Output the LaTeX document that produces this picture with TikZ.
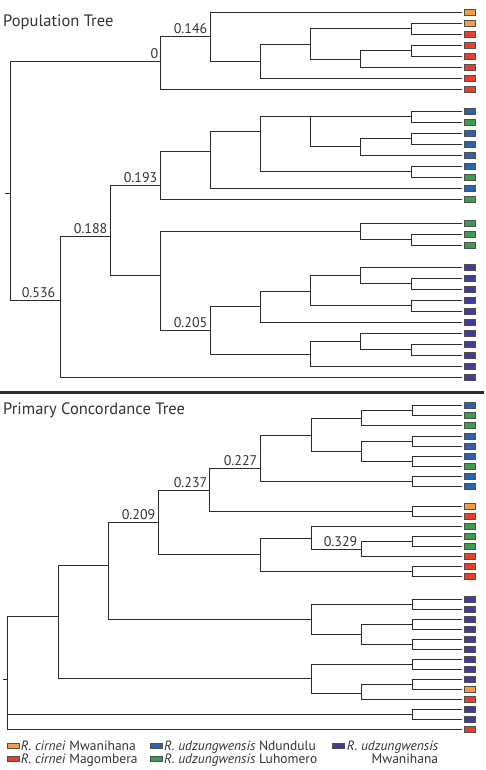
\documentclass[tikz,border=0pt]{standalone}
\usepackage{fontspec}
\setmainfont{PT Sans}
\newcommand\mytightlines{\lineskiplimit=-100pt\relax\lineskip=0pt\relax}
\definecolor{linec}{HTML}{2B2B2B}
\definecolor{boxc}{HTML}{505050}
\definecolor{txtc}{HTML}{333333}
\definecolor{co}{HTML}{F39C42}
\definecolor{cr}{HTML}{E5402C}
\definecolor{cb}{HTML}{2F62AE}
\definecolor{cg}{HTML}{3E9B4F}
\definecolor{cp}{HTML}{403D96}
\begin{document}
\begin{tikzpicture}[x=1pt,y=-1pt,
  br/.style={draw=linec,line width=1.9pt},
  leafbox/.style={draw=boxc,line width=0.6pt,minimum width=11pt,minimum height=6pt,inner sep=0pt,anchor=west},
  legbox/.style={draw=boxc,line width=0.5pt,minimum width=12pt,minimum height=5pt,inner sep=0pt},
  lab/.style={font=\fontsize{14}{16}\selectfont,text=txtc,anchor=base east,inner sep=0pt},
  ttl/.style={font=\fontsize{16.5}{18}\selectfont,text=txtc,anchor=base west,inner sep=0pt},
  legtext/.style={font={\fontsize{13.5}{12.5}\selectfont\mytightlines},text=txtc,anchor=base west,inner sep=0pt}]
\useasboundingbox (0,0) rectangle (486,770);

% ---------- titles and separator
\node[ttl] (title1) at (3,26.5) {Population Tree};
\node[ttl] (title2) at (3,414) {Primary Concordance Tree};
\coordinate (sepL) at (0,392.5);
\coordinate (sepR) at (484,392.5);
\draw[draw=linec,line width=2.5pt] (sepL) -- (sepR);

% ---------- top tree leaves
\foreach \n/\y/\c in {t1/12.5/co,t2/23.5/co,t3/34.5/cr,t4/45.5/cr,t5/56.5/cr,t6/67.5/cr,t7/78.5/cr,t8/89.5/cr,
  t9/111.5/cb,t10/122.5/cg,t11/133.5/cb,t12/144.5/cb,t13/155.5/cb,t14/166.5/cb,t15/177.5/cg,t16/188.5/cb,t17/199.5/cg,
  t18/223.5/cg,t19/234.5/cg,t20/245.5/cg,
  t21/267.5/cp,t22/278.5/cp,t23/289.5/cp,t24/300.5/cp,t25/311.5/cp,t26/322.5/cp,t27/333.5/cp,t28/344.5/cp,t29/355.5/cp,t30/366.5/cp,t31/377.5/cp}{
  \coordinate (\n) at (461.5,\y);
  \node[leafbox,fill=\c] (\n box) at (464,\y) {};
}
% top tree internal nodes
\coordinate (tR) at (10.5,193.5);
\coordinate (tRtick) at (5,193.5);
\coordinate (tA) at (160.5,61.5);
\coordinate (tB) at (210.5,36.5);
\coordinate (tC) at (260.5,61.5);
\coordinate (tD) at (310.5,44.5);
\coordinate (tE) at (411.5,28.5);
\coordinate (tF) at (360.5,59.5);
\coordinate (tG) at (411.5,50.5);
\coordinate (tH) at (60.5,300.5);
\coordinate (tI) at (110.5,236.5);
\coordinate (tJ) at (160.5,185.5);
\coordinate (tL) at (210.5,151.5);
\coordinate (tM) at (260.5,131.5);
\coordinate (tN) at (310.5,116.5);
\coordinate (tP) at (411.5,116.5);
\coordinate (tQ) at (360.5,146.5);
\coordinate (tRr) at (411.5,138.5);
\coordinate (tO) at (411.5,171.5);
\coordinate (tK) at (160.5,275.5);
\coordinate (tS) at (360.5,231.5);
\coordinate (tU) at (411.5,239.5);
\coordinate (tT) at (210.5,330.5);
\coordinate (tV) at (260.5,306.5);
\coordinate (tX) at (310.5,291.5);
\coordinate (tY) at (360.5,275.5);
\coordinate (tYb) at (411.5,283.5);
\coordinate (tZ) at (411.5,305.5);
\coordinate (tW) at (310.5,354.5);
\coordinate (tAA) at (360.5,341.5);
\coordinate (tAAb) at (411.5,349.5);

\draw[br] (tR) -- (tRtick);
\foreach \a/\b in {tR/tA,tR/tH,tA/tB,tA/t8,tB/t1,tB/tC,tC/tD,tC/t7,tD/tE,tD/tF,tE/t2,tE/t3,tF/tG,tF/t6,tG/t4,tG/t5,
  tH/tI,tH/t31,tI/tJ,tI/tK,tJ/tL,tJ/t17,tL/tM,tL/t16,tM/tN,tM/tO,tN/tP,tN/tQ,tP/t9,tP/t10,tQ/tRr,tQ/t13,tRr/t11,tRr/t12,tO/t14,tO/t15,
  tK/tS,tK/tT,tS/t18,tS/tU,tU/t19,tU/t20,tT/tV,tT/tW,tV/tX,tV/t26,tX/tY,tX/tZ,tY/t21,tY/tYb,tYb/t22,tYb/t23,tZ/t24,tZ/t25,
  tW/tAA,tW/t30,tAA/t27,tAA/tAAb,tAAb/t28,tAAb/t29}{
  \draw[br] (\a) |- (\b);
}
% top labels
\node[lab] (labA) at ([xshift=-2pt,yshift=3pt]tA) {0};
\node[lab] (labB) at ([xshift=-3pt,yshift=3pt]tB) {0.146};
\node[lab] (labJ) at ([xshift=-3pt,yshift=3pt]tJ) {0.193};
\node[lab] (labI) at ([xshift=-3pt,yshift=3pt]tI) {0.188};
\node[lab] (labH) at ([xshift=-5pt,yshift=3pt]tH) {0.536};
\node[lab] (labT) at ([xshift=-3pt,yshift=3pt]tT) {0.205};

% ---------- bottom tree leaves
\foreach \n/\y/\c in {b1/405.5/cb,b2/415.5/cg,b3/425.5/cg,b4/436.5/cb,b5/446.5/cb,b6/456.5/cb,b7/466.5/cg,b8/476.5/cb,b9/486.5/cb,
  b10/506.5/co,b11/516.5/cr,b12/526.5/cg,b13/536.5/cg,b14/546.5/cg,b15/556.5/cr,b16/566.5/cr,b17/576.5/cr,
  b18/599.5/cp,b19/609.5/cp,b20/619.5/cp,b21/629.5/cp,b22/639.5/cp,b23/649.5/cp,b24/659.5/cp,b25/669.5/cp,b26/679.5/cp,
  b27/689.5/co,b28/699.5/cr,b29/709.5/cp,b30/719.5/cp,b31/729.5/cr}{
  \coordinate (\n) at (461.5,\y);
  \node[leafbox,fill=\c] (\n box) at (464,\y) {};
}
% bottom tree internal nodes
\coordinate (bR) at (7.5,679.5);
\coordinate (bRtick) at (2.5,679.5);
\coordinate (bB1) at (58.5,616.5);
\coordinate (bB2) at (108.5,565.5);
\coordinate (bB3) at (311.5,678.5);
\coordinate (bB4) at (158.5,522.5);
\coordinate (bB5) at (311.5,619.5);
\coordinate (bB6) at (209.5,490.5);
\coordinate (bB7) at (260.5,554.5);
\coordinate (bBO) at (412.5,511.5);
\coordinate (bB8) at (260.5,468.5);
\coordinate (bB8b) at (412.5,481.5);
\coordinate (bB9) at (311.5,435.5);
\coordinate (bB10) at (361.5,418.5);
\coordinate (bB10a) at (412.5,410.5);
\coordinate (bB11) at (361.5,451.5);
\coordinate (bB11a) at (412.5,441.5);
\coordinate (bB11b) at (412.5,461.5);
\coordinate (bB7b) at (412.5,571.5);
\coordinate (bB12) at (311.5,538.5);
\coordinate (bB13) at (361.5,549.5);
\coordinate (bB13a) at (412.5,541.5);
\coordinate (bB5a) at (412.5,604.5);
\coordinate (bB14) at (361.5,634.5);
\coordinate (bB14a) at (412.5,624.5);
\coordinate (bB14b) at (412.5,644.5);
\coordinate (bB3a) at (412.5,664.5);
\coordinate (bB15) at (361.5,693.5);
\coordinate (bB15a) at (412.5,684.5);
\coordinate (bBX) at (412.5,714.5);

\draw[br] (bR) -- (bRtick);
\foreach \a/\b in {bR/bB1,bR/bBX,bR/b31,bB1/bB2,bB1/bB3,bB2/bB4,bB2/bB5,bB4/bB6,bB4/bB7,bB6/bB8,bB6/bBO,bBO/b10,bBO/b11,
  bB8/bB9,bB8/bB8b,bB8b/b8,bB8b/b9,bB9/bB10,bB9/bB11,bB10/bB10a,bB10/b3,bB10a/b1,bB10a/b2,bB11/bB11a,bB11/bB11b,
  bB11a/b4,bB11a/b5,bB11b/b6,bB11b/b7,bB7/bB12,bB7/bB7b,bB7b/b16,bB7b/b17,bB12/b12,bB12/bB13,bB13/bB13a,bB13/b15,
  bB13a/b13,bB13a/b14,bB5/bB5a,bB5/bB14,bB5a/b18,bB5a/b19,bB14/bB14a,bB14/bB14b,bB14a/b20,bB14a/b21,bB14b/b22,bB14b/b23,
  bB3/bB3a,bB3/bB15,bB3a/b24,bB3a/b25,bB15/bB15a,bB15/b28,bB15a/b26,bB15a/b27,bBX/b29,bBX/b30}{
  \draw[br] (\a) |- (\b);
}
% bottom labels
\node[lab] (labB8) at ([xshift=-3pt,yshift=3pt]bB8) {0.227};
\node[lab] (labB6) at ([xshift=-2pt,yshift=3pt]bB6) {0.237};
\node[lab] (labB4) at ([xshift=-3pt,yshift=3pt]bB4) {0.209};
\node[lab] (labB13) at ([xshift=-4pt,yshift=3pt]bB13) {0.329};

% ---------- legend (two-line text blocks; base anchor = last line)
\node[legbox,fill=co] (lg1b) at (13.5,746) {};
\node[legbox,fill=cr] (lg2b) at (13.5,758.5) {};
\node[legtext,align=left] (lg1t) at (20.7,763) {\textit{R. cirnei} Mwanihana\\\textit{R. cirnei} Magombera};
\node[legbox,fill=cb] (lg3b) at (156.5,746) {};
\node[legbox,fill=cg] (lg4b) at (156.5,758.5) {};
\node[legtext,align=left] (lg3t) at (164,763) {\textit{R. udzungwensis} Ndundulu\\\textit{R. udzungwensis} Luhomero};
\node[legbox,fill=cp] (lg5b) at (338,746) {};
\node[legtext,align=right] (lg5t) at (346.7,763) {\textit{R. udzungwensis}\\Mwanihana};
\end{tikzpicture}
\end{document}
